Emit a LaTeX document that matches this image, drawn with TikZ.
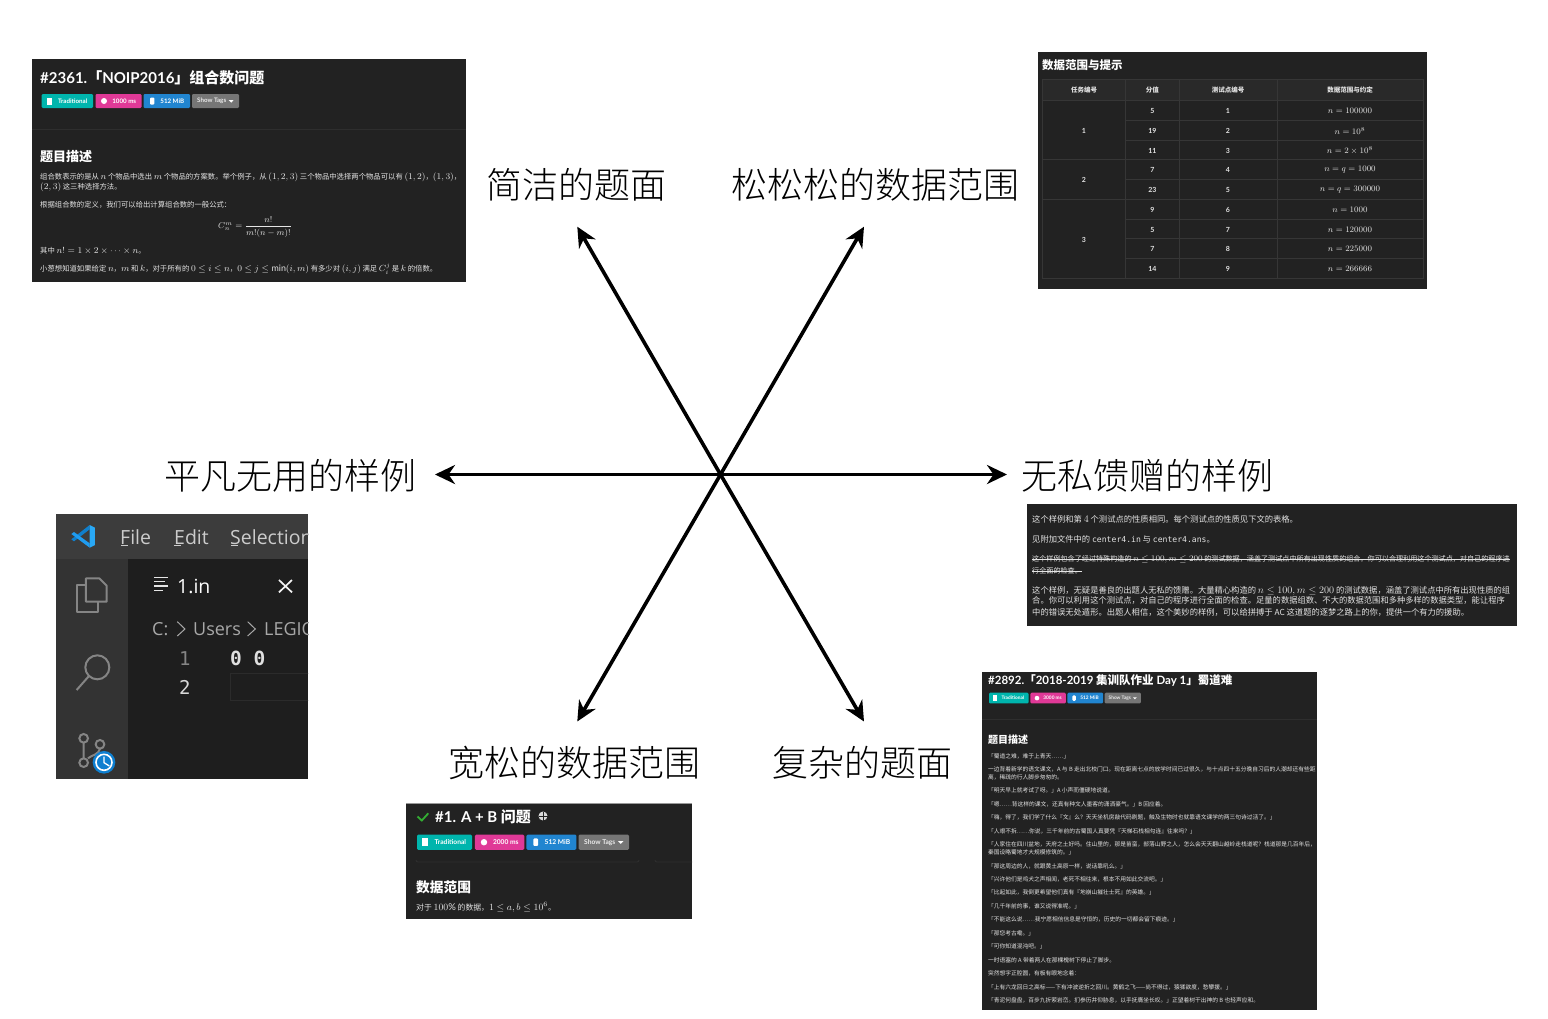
\RequirePackage{fix-cm}
\documentclass[tikz,border=0pt]{standalone}
\usepackage{amsmath}
\usepackage{fontspec}
\setmainfont{Lato}
\newfontfamily\cjk{Noto Sans CJK SC}
\newfontfamily\cjks[Scale=0.826]{Noto Sans CJK SC}
\newfontfamily\cjklight{Noto Sans CJK SC Light}
\newfontfamily\uifont{Open Sans}
\newfontfamily\monof{DejaVu Sans Mono}
\usetikzlibrary{arrows.meta}
\newcommand\fs[1]{\fontsize{#1}{#1}\selectfont}
\newcommand\zh[1]{{\cjk #1}}
\definecolor{panel}{HTML}{222222}
\definecolor{divi}{HTML}{2E2E2E}
\definecolor{tline}{HTML}{363636}
\definecolor{thead}{HTML}{292929}
\definecolor{bteal}{HTML}{00B5AD}
\definecolor{bpink}{HTML}{E03997}
\definecolor{bblue}{HTML}{2185D0}
\definecolor{bgray}{HTML}{767676}
\definecolor{bodytxt}{HTML}{E4E4E4}
\definecolor{vsbar}{HTML}{3C3C3C}
\definecolor{vsside}{HTML}{333333}
\definecolor{vsedit}{HTML}{1E1E1E}
\definecolor{vsicon}{HTML}{858585}
\definecolor{logoa}{HTML}{1F9CF0}
\definecolor{logob}{HTML}{0F7FCC}
\definecolor{logoc}{HTML}{29A8F5}
\definecolor{clockblue}{HTML}{0E7FD0}
\tikzset{
  spoke/.style={line width=3.6pt,-{Stealth[length=20pt,width=19pt,inset=6.5pt]}},
  biglabel/.style={inner sep=0,font=\cjklight\fs{36},text=black},
  lineA/.style={anchor=base west,inner sep=0,text=bodytxt,font=\cjks\fs{8.9},yshift=-2.6pt},
  lineC/.style={anchor=base west,inner sep=0,text=bodytxt,font=\cjks\fs{10.04},yshift=-2.9pt},
  lineD/.style={anchor=base west,inner sep=0,text=bodytxt,font=\cjk\fs{5.75},yshift=-2pt},
  title/.style={anchor=west,inner sep=0,text=white,font=\bfseries},
  tcell/.style={inner sep=0,text=bodytxt,font=\bfseries\fs{7}},
  thcell/.style={inner sep=0,text=bodytxt,font=\cjk\bfseries\fs{6.5}},
  tmath/.style={inner sep=0,text=bodytxt,font=\fs{8.4}},
  badgetxt/.style={inner sep=0,text=white,font=\bfseries\fs{6.2}},
  vsmenu/.style={anchor=base west,inner sep=0,text=white!80!black,font=\uifont\fs{19.5}},
  vscrumb/.style={anchor=base west,inner sep=0,text=white!66!black,font=\uifont\fs{18}},
  vsicons/.style={draw=vsicon,line width=2pt},
}
% one row of badges: prefix, x, y, scale, time text
\newcommand\badgerow[5]{%
  \begin{scope}[shift={(#2,#3)},scale=#4,transform shape]
    \fill[bteal,rounded corners=1.2pt] (0,0) rectangle (51.3,14);
    \fill[bpink,rounded corners=1.2pt] (53.8,0) rectangle (99.8,14);
    \fill[bblue,rounded corners=1.2pt] (101.8,0) rectangle (148.3,14);
    \fill[bgray,rounded corners=1.2pt] (150.3,0) rectangle (197.3,14);
    \fill[white] (5,3.5) rectangle (10,10.5);
    \fill[white] (62.3,7) circle (3);
    \fill[white,rounded corners=1pt] (108.3,3.5) rectangle (112.7,10.5);
    \fill[white] (187,6) -- (192,6) -- (189.5,8.6) -- cycle;
    \node[badgetxt] (#1a) at (31,7) {Traditional};
    \node[badgetxt] (#1b) at (82.6,7) {#5};
    \node[badgetxt] (#1c) at (130.6,7) {512 MiB};
    \node[badgetxt,text=white!92!black] (#1d) at (170,7) {Show Tags};
  \end{scope}}
\begin{document}
\begin{tikzpicture}[x=1pt,y=-1pt]
\useasboundingbox (0,0) rectangle (1548,1018);

% ---------- panel: problem statement (top left)
\fill[panel] (32,59) rectangle (466,282);
\node[title,font=\bfseries\fs{15}] (p1title) at (40,77.5) {\#2361.\zh{「}NOIP2016\zh{」组合数问题}};
\badgerow{pa}{41.7}{94}{1}{1000 ms}
\draw[divi,line width=1pt] (32,129) -- (466,129);
\node[title,font=\cjk\bfseries\fs{13}] (p1head) at (40,157) {题目描述};
\node[lineA] (p1l1) at (40,177) {组合数表示的是从 $n$ 个物品中选出 $m$ 个物品的方案数。举个例子，从 $(1,2,3)$ 三个物品中选择两个物品可以有 $(1,2)$，$(1,3)$，};
\node[lineA] (p1l2) at (40,187) {$(2,3)$ 这三种选择方法。};
\node[lineA] (p1l3) at (40,205) {根据组合数的定义，我们可以给出计算组合数的一般公式：};
\node[inner sep=0,text=bodytxt,font=\fs{8.5}] (p1f) at (255,227) {$\displaystyle C_n^m=\frac{n!}{m!(n-m)!}$};
\node[lineA] (p1l4) at (40,251) {其中 $n!=1\times2\times\cdots\times n$。};
\node[lineA] (p1l5) at (40,269) {小葱想知道如果给定 $n$，$m$ 和 $k$，对于所有的 $0\le i\le n$，$0\le j\le\min(i,m)$ 有多少对 $(i,j)$ 满足 $C_i^j$ 是 $k$ 的倍数。};

% ---------- panel: data table (top right)
\fill[panel] (1038,52) rectangle (1427,289);
\node[title,font=\cjk\bfseries\fs{11.5}] (p2title) at (1042,65) {数据范围与提示};
\fill[thead] (1042.3,79) rectangle (1423.7,100.3);
\draw[tline,line width=.8pt] (1042.3,79) rectangle (1423.7,278.3);
\draw[tline,line width=.8pt] (1042.3,100.3) -- (1423.7,100.3)
  (1042.3,159.7) -- (1423.7,159.7) (1042.3,199.3) -- (1423.7,199.3)
  (1125.3,120.3) -- (1423.7,120.3) (1125.3,140) -- (1423.7,140)
  (1125.3,179.3) -- (1423.7,179.3) (1125.3,219) -- (1423.7,219)
  (1125.3,238.7) -- (1423.7,238.7) (1125.3,258.7) -- (1423.7,258.7)
  (1125.3,79) -- (1125.3,278.3) (1179.3,79) -- (1179.3,278.3) (1277.3,79) -- (1277.3,278.3);
\node[thcell] (th1) at (1084,90) {任务编号};
\node[thcell] (th2) at (1152.3,90) {分值};
\node[thcell] (th3) at (1228,90) {测试点编号};
\node[thcell] (th4) at (1350,90) {数据范围与约定};
\node[tcell] (task1) at (1084,130.8) {1};
\node[tcell] (task2) at (1084,180) {2};
\node[tcell] (task3) at (1084,239.5) {3};
\foreach \i/\ya/\sc/\te/\ma in {
  1/110.8/5/1/{n=100000},
  2/130.8/19/2/{n=10^8},
  3/150.5/11/3/{n=2\times10^8},
  4/170/7/4/{n=q=1000},
  5/189.8/23/5/{n=q=300000},
  6/209.8/9/6/{n=1000},
  7/229.5/5/7/{n=120000},
  8/249.2/7/8/{n=225000},
  9/269/14/9/{n=266666}}{
  \node[tcell] (sc\i) at (1152.3,\ya) {\sc};
  \node[tcell] (te\i) at (1228,\ya) {\te};
  \node[tmath] (ma\i) at (1350,\ya) {$\ma$};
}

% ---------- panel: generous sample (right)
\fill[panel] (1027,504) rectangle (1517,626);
\node[lineC] (p3l1) at (1032,519.3) {这个样例和第 $4$ 个测试点的性质相同。每个测试点的性质见下文的表格。};
\node[lineC] (p3l2) at (1032,539.7) {见附加文件中的 {\monof\fs{8.1}center4.in} 与 {\monof\fs{8.1}center4.ans}。};
\node[lineC,font=\cjks\fs{8.6}] (p3l3) at (1032,559) {这个样例包含了经过特殊构造的 $n\le100,m\le200$ 的测试数据，涵盖了测试点中所有出现性质的组合。你可以合理利用这个测试点，对自己的程序进};
\node[lineC,font=\cjks\fs{8.6}] (p3l4) at (1032,571) {行全面的检查。};
\draw[bodytxt,line width=.6pt] (p3l3.west) -- (p3l3.east);
\draw[bodytxt,line width=.6pt] (p3l4.west) -- (p3l4.east);
\node[lineC] (p3l5) at (1032,591) {这个样例，无疑是善良的出题人无私的馈赠。大量精心构造的 $n\leq100,m\leq200$ 的测试数据，涵盖了测试点中所有出现性质的组};
\node[lineC] (p3l6) at (1032,601) {合。你可以利用这个测试点，对自己的程序进行全面的检查。足量的数据组数、不大的数据范围和多种多样的数据类型，能让程序};
\node[lineC] (p3l7) at (1032,613) {中的错误无处遁形。出题人相信，这个美妙的样例，可以给拼搏于 AC 这道题的逐梦之路上的你，提供一个有力的援助。};

% ---------- panel: long statement (bottom right)
\fill[panel] (982,672) rectangle (1317,1010);
\node[title,font=\bfseries\fs{11.5}] (p4title) at (988,680) {\#2892.\zh{「}2018-2019 \zh{集训队作业} Day 1\zh{」蜀道难}};
\badgerow{pd}{989}{692.7}{.77}{3000 ms}
\draw[divi,line width=1pt] (982,719.3) -- (1317,719.3);
\node[title,font=\cjk\bfseries\fs{10}] (p4head) at (988,740) {题目描述};
\node[lineD] (d1) at (988,756) {「蜀道之难，难于上青天……」};
\node[lineD] (d2) at (988,769) {一边背着新学的语文课文，A 与 B 走出北校门口。现在距离七点的放学时间已过很久，与十点四十五分晚自习后的人潮却还有些距};
\node[lineD] (d3) at (988,777.7) {离，稀疏的行人脚步匆匆的。};
\node[lineD] (d4) at (988,790) {「明天早上就考试了呀。」A 小声而僵硬地说道。};
\node[lineD] (d5) at (988,804) {「嗯……背这样的课文，还真有种文人墨客的潇洒豪气。」B 回应着。};
\node[lineD] (d6) at (988,817.7) {「嗨，得了，我们学了什么『文』么？天天坐机房敲代码刷题，触及生物时也就靠语文课学的两三句诗过活了。」};
\node[lineD] (d7) at (988,831) {「人艰不拆……你说，三千年前的古蜀国人真要凭『天梯石栈相勾连』往来吗？」};
\node[lineD] (d8) at (988,844) {「人家住在四川盆地，天府之土好吗。住山里的，那是苗蛮，部落山野之人，怎么会天天翻山越岭走栈道呢？栈道那是几百年后，};
\node[lineD] (d9) at (988,852.3) {秦国设略蜀地才大规模修筑的。」};
\node[lineD] (d10) at (988,866) {「那这周边的人，就跟黄土高原一样，说话靠吼么。」};
\node[lineD] (d11) at (988,879.3) {「兴许他们是鸡犬之声相闻，老死不相往来，根本不用如此交流吧。」};
\node[lineD] (d12) at (988,892.3) {「比起如此，我倒更希望他们真有『地崩山摧壮士死』的英雄。」};
\node[lineD] (d13) at (988,906) {「几千年前的事，谁又说得准呢。」};
\node[lineD] (d14) at (988,919.3) {「不能这么说……我宁愿相信信息是守恒的，历史的一切都会留下痕迹。」};
\node[lineD] (d15) at (988,933.3) {「那您考古嘞。」};
\node[lineD] (d16) at (988,946.7) {「可你知道混沌吧。」};
\node[lineD] (d17) at (988,960.3) {一时语塞的 A 带着两人在那棵槐树下停止了脚步。};
\node[lineD] (d18) at (988,973.7) {突然想字正腔圆，有板有眼地念着：};
\node[lineD] (d19) at (988,987.3) {「上有六龙回日之高标——下有冲波逆折之回川。黄鹤之飞——尚不得过，猿猱欲度，愁攀援。」};
\node[lineD] (d20) at (988,1000.7) {「青泥何盘盘，百步九折萦岩峦。扪参历井仰胁息，以手抚膺坐长叹。」正望着树干出神的 B 也轻声应和。};

% ---------- panel: A + B (bottom middle)
\fill[panel] (406,803) rectangle (692,919);
\draw[white!60!black,line width=.6pt] (406,803) -- (692,803);
\draw[green!60!black!80!white,line width=1.8pt] (417.5,816.5) -- (421.8,820.5) -- (428.3,813.3);
\node[title,font=\bfseries\fs{15}] (p5title) at (435,817) {\#1. A + B \zh{问题}};
\fill[white!85!black] (543,816) circle (4.5);
\draw[panel,line width=.5pt] (543,811.5) -- (543,820.5) (538.5,816) -- (547.5,816);
\badgerow{pe}{417}{834.7}{1.075}{2000 ms}
\draw[divi,line width=.9pt,rounded corners=2pt] (416,860) -- (416,862) -- (639,862) -- (639,860);
\draw[divi,line width=.9pt,rounded corners=2pt] (655,860) -- (655,862) -- (692,862);
\node[title,font=\cjk\bfseries\fs{13.7}] (p5head) at (416,887) {数据范围};
\node[lineA,font=\cjks\fs{9.5}] (p5l1) at (416,908) {对于 $100\%$ 的数据，$1\le a,b\le10^6$。};

% ---------- panel: editor window (left)
\begin{scope}
\clip (56,514) rectangle (308,779);
\fill[vsedit] (56,514) rectangle (308,779);
\fill[vsbar] (56,514) rectangle (308,559);
\fill[vsside] (56,559) rectangle (128,779);
\node[vsmenu] (mfile) at (120,544) {File};
\node[vsmenu] (medit) at (174,544) {Edit};
\node[vsmenu] (msel) at (230,544) {Selection};
\node[anchor=base west,inner sep=0,text=white,font=\uifont\fs{19.5}] (tabname) at (177,593) {1.in};
\node[vscrumb] (crumbc) at (152,635) {C:};
\node[vscrumb] (crumbu) at (193,635) {Users};
\node[vscrumb] (crumbl) at (264,635) {LEGION};
\node[anchor=base west,inner sep=0,text=vsicon,font=\monof\fs{19}] (ln1) at (179,665) {1};
\node[anchor=base west,inner sep=0,text=white!85!black,font=\monof\fs{19}] (ln2) at (179,694) {2};
\node[anchor=base west,inner sep=0,text=white!88!black,font=\monof\bfseries\fs{19.5}] (code) at (230,665) {0 0};
\begin{scope}[shift={(50,510)},x=.3333pt,y=-.3333pt]
  \draw[white!80!black,line width=.8pt] (213,105) -- (235,105) (372,105) -- (393,105) (543,105) -- (565,105);
  % logo
  \fill[logob] (64,88) -- (72,94) -- (119,58) -- (119,45) -- cycle;
  \fill[logoa] (64,72) -- (72,66) -- (119,100) -- (119,113) -- cycle;
  \fill[logoc] (119,45) -- (135,53) -- (135,105) -- (119,113) -- cycle;
  % files
  \draw[vsicons,line join=round] (108,225) -- (80,225) -- (80,305) -- (143,305) -- (143,275);
  \draw[vsicons,line join=round] (108,205) -- (148,205) -- (170,227) -- (170,275) -- (108,275) -- cycle;
  % search
  \draw[vsicons] (142,472) circle (36);
  \draw[vsicons] (117,498) -- (80,540);
  % source control
  \draw[vsicons] (101,685) circle (13) (150,703) circle (13) (101,758) circle (13);
  \draw[vsicons] (101,698) -- (101,745) (150,716) .. controls (146,735) and (125,735) .. (114,745);
  \fill[clockblue] (162,757) circle (34);
  \draw[white,line width=1.6pt] (162,757) circle (24);
  \draw[white,line width=1.3pt] (162,740) -- (162,758) -- (178,768);
  % tab icon
  \draw[white!90!black,line width=1.3pt] (313,203) -- (353,203) (313,215) -- (345,215) (313,228) -- (355,228) (313,241) -- (340,241);
  % close cross
  \draw[white!95!black,line width=1.7pt] (687,210) -- (726,247) (726,210) -- (687,247);
  % breadcrumb chevrons
  \draw[white!66!black,line width=1pt] (382,335) -- (405,357) -- (382,378) (593,335) -- (616,357) -- (593,378);
  % current line box
  \draw[white!17!black,line width=1pt] (900,490) -- (543,490) -- (543,571) -- (900,571);
\end{scope}
\end{scope}

% ---------- labels
\node[biglabel] (lbl1) at (576.5,185) {简洁的题面};
\node[biglabel] (lbl2) at (875.5,185) {松松松的数据范围};
\node[biglabel] (lbl3) at (290.5,476) {平凡无用的样例};
\node[biglabel] (lbl4) at (1147.5,476) {无私馈赠的样例};
\node[biglabel] (lbl5) at (574,763) {宽松的数据范围};
\node[biglabel] (lbl6) at (862.5,763) {复杂的题面};

% ---------- arrows
\coordinate (hub) at (720.5,474.5);
\coordinate (tipul) at (577.3,226.7);
\coordinate (tipur) at (864,226.7);
\coordinate (tipl) at (435,474.5);
\coordinate (tipr) at (1007,474.5);
\coordinate (tipll) at (577.3,721.5);
\coordinate (tiplr) at (864,721.5);
\draw[spoke] (hub) -- (tipul);
\draw[spoke] (hub) -- (tipur);
\draw[spoke] (hub) -- (tipl);
\draw[spoke] (hub) -- (tipr);
\draw[spoke] (hub) -- (tipll);
\draw[spoke] (hub) -- (tiplr);
\end{tikzpicture}
\end{document}
